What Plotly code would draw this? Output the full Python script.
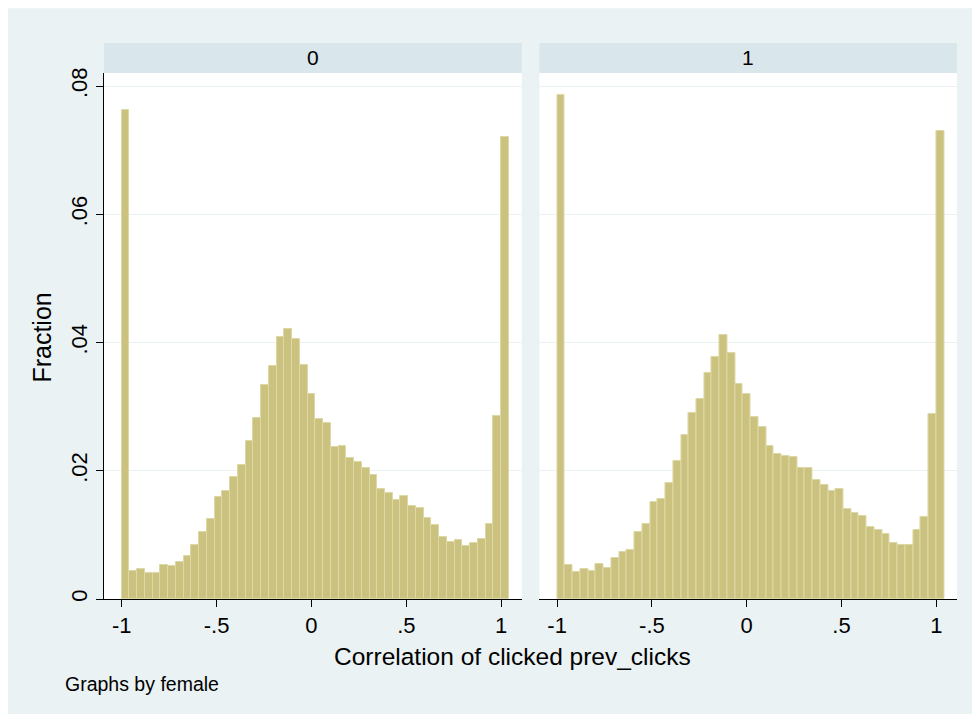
import plotly.graph_objects as go

# ---- data ----
panel_labels = ["0", "1"]
bin_start = -1.0
bin_width = 2 / 49
fraction_female0 = [
    0.0763, 0.0044, 0.0047, 0.0040, 0.0040, 0.0053, 0.0051, 0.0057, 0.0067, 0.0084,
    0.0105, 0.0125, 0.0159, 0.0168, 0.0190, 0.0209, 0.0247, 0.0283, 0.0334, 0.0363,
    0.0408, 0.0421, 0.0406, 0.0365, 0.0320, 0.0280, 0.0275, 0.0237, 0.0239, 0.0220,
    0.0214, 0.0205, 0.0193, 0.0171, 0.0166, 0.0154, 0.0160, 0.0145, 0.0142, 0.0127,
    0.0115, 0.0097, 0.0089, 0.0092, 0.0082, 0.0088, 0.0093, 0.0117, 0.0286, 0.0721,
]
fraction_female1 = [
    0.0786, 0.0053, 0.0042, 0.0047, 0.0044, 0.0054, 0.0048, 0.0064, 0.0074, 0.0076,
    0.0104, 0.0117, 0.0152, 0.0156, 0.0181, 0.0216, 0.0256, 0.0290, 0.0312, 0.0353,
    0.0378, 0.0411, 0.0384, 0.0336, 0.0320, 0.0284, 0.0269, 0.0238, 0.0226, 0.0223,
    0.0221, 0.0205, 0.0204, 0.0185, 0.0178, 0.0168, 0.0172, 0.0141, 0.0134, 0.0130,
    0.0112, 0.0107, 0.0101, 0.0087, 0.0084, 0.0084, 0.0108, 0.0128, 0.0288, 0.0730,
]
x_tick_vals = [-1, -0.5, 0, 0.5, 1]
x_tick_text = ["-1", "-.5", "0", ".5", "1"]
y_tick_vals = [0, 0.02, 0.04, 0.06, 0.08]
y_tick_text = ["0", ".02", ".04", ".06", ".08"]
x_title = "Correlation of clicked prev_clicks"
y_title = "Fraction"
note_text = "Graphs by female"

# ---- layout geometry (screen pixels; page has an 8px body margin) ----
OFF = 8
W, H = 980, 717
plot_left, plot_right, plot_top, plot_bottom = 104, 956.7, 42.7, 599
L = plot_left - OFF
T = plot_top - OFF
R = W - (plot_right - OFF)
B = H - (plot_bottom - OFF)
pw = W - L - R
ph = H - T - B
def px(x):
    return (x - plot_left) / pw
def py(y):
    return (plot_bottom - y) / ph

left_dom = [0, px(521.7)]
right_dom = [px(539.3), 1]
y_dom = [0, py(72.7)]

BAR_FILL = "#cbc27f"
BAR_LINE = "#ddd8a6"
REGION = "#eaf2f3"
STRIP = "#d9e6eb"
GRID = "#eaf2f3"
FONT = "Liberation Sans, Arial, sans-serif"

fig = go.Figure()
for i, vals in enumerate([fraction_female0, fraction_female1]):
    fig.add_trace(go.Bar(
        x0=bin_start + bin_width / 2, dx=bin_width, y=vals,
        width=bin_width,
        marker=dict(color=BAR_FILL, line=dict(color=BAR_LINE, width=1)),
        xaxis="x" if i == 0 else "x2", yaxis="y" if i == 0 else "y2",
        showlegend=False, hoverinfo="skip",
    ))

xr = [-1.0933, 1.109]
yr = [0, 0.08203]
common_x = dict(range=xr, tickvals=x_tick_vals, ticktext=x_tick_text,
                ticks="outside", ticklen=7, tickcolor="black", tickwidth=1,
                showline=True, linecolor="black", linewidth=1,
                showgrid=False, zeroline=False,
                tickfont=dict(family=FONT, size=22, color="black"))
common_y = dict(range=yr, tickvals=y_tick_vals, showgrid=True, gridcolor=GRID,
                gridwidth=1, zeroline=False, domain=y_dom)

shapes = [
    dict(type="rect", xref="paper", yref="paper", x0=px(8), x1=px(972), y0=py(714), y1=py(8),
         fillcolor=REGION, line=dict(width=0), layer="below"),
    dict(type="rect", xref="paper", yref="paper", x0=left_dom[0], x1=left_dom[1], y0=0, y1=y_dom[1],
         fillcolor="white", line=dict(width=0), layer="below"),
    dict(type="rect", xref="paper", yref="paper", x0=right_dom[0], x1=right_dom[1], y0=0, y1=y_dom[1],
         fillcolor="white", line=dict(width=0), layer="below"),
    dict(type="rect", xref="paper", yref="paper", x0=left_dom[0], x1=left_dom[1], y0=y_dom[1], y1=1,
         fillcolor=STRIP, line=dict(width=0), layer="below"),
    dict(type="rect", xref="paper", yref="paper", x0=right_dom[0], x1=right_dom[1], y0=y_dom[1], y1=1,
         fillcolor=STRIP, line=dict(width=0), layer="below"),
]

annotations = [
    dict(text=panel_labels[0], x=(left_dom[0] + left_dom[1]) / 2, y=(y_dom[1] + 1) / 2,
         xref="paper", yref="paper", showarrow=False, xanchor="center", yanchor="middle",
         font=dict(family=FONT, size=21, color="black")),
    dict(text=panel_labels[1], x=(right_dom[0] + right_dom[1]) / 2, y=(y_dom[1] + 1) / 2,
         xref="paper", yref="paper", showarrow=False, xanchor="center", yanchor="middle",
         font=dict(family=FONT, size=21, color="black")),
    dict(text=x_title, x=px(512), y=py(657), xref="paper", yref="paper", showarrow=False,
         xanchor="center", yanchor="middle", font=dict(family=FONT, size=24.5, color="black")),
    dict(text=y_title, x=px(42.5), y=py(337), xref="paper", yref="paper", showarrow=False,
         textangle=-90, xanchor="center", yanchor="middle",
         font=dict(family=FONT, size=25, color="black")),
    dict(text=note_text, x=px(63), y=py(684), xref="paper", yref="paper", showarrow=False,
         xanchor="left", yanchor="middle", font=dict(family=FONT, size=19.5, color="black")),
]

fig.update_layout(
    width=W, height=H,
    margin=dict(l=L, r=R, t=T, b=B, pad=0),
    paper_bgcolor="white", plot_bgcolor="rgba(0,0,0,0)",
    bargap=0,
    xaxis=dict(domain=left_dom, anchor="y", **common_x),
    xaxis2=dict(domain=right_dom, anchor="y2", **common_x),
    yaxis=dict(anchor="x", ticktext=y_tick_text, ticks="outside", ticklen=7,
               tickcolor="black", showline=True, linecolor="black", linewidth=1,
               tickangle=-90, tickfont=dict(family=FONT, size=22, color="black"),
               **common_y),
    yaxis2=dict(anchor="x2", showticklabels=False, ticks="", showline=False, **common_y),
    shapes=shapes,
    annotations=annotations,
    font=dict(family=FONT, color="black"),
)

fig.write_html("out.html")
